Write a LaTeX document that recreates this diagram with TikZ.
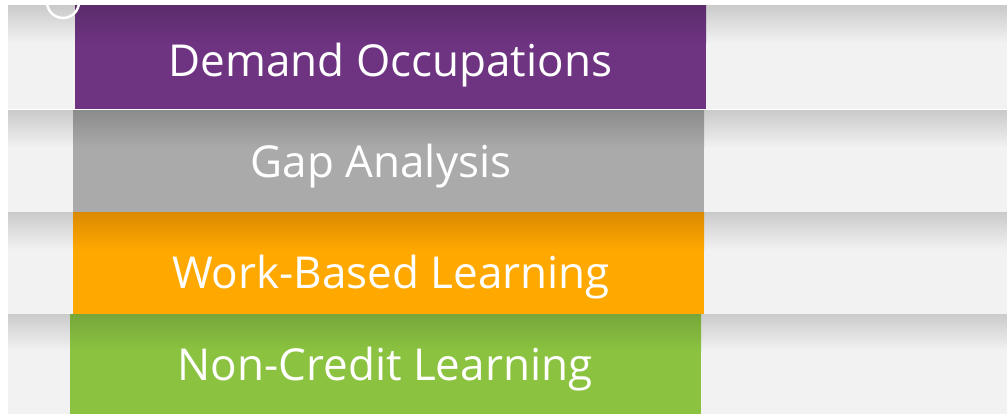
\documentclass[tikz,border=0pt]{standalone}
\usepackage{fontspec}
\setmainfont{Open Sans}
\definecolor{bandtop}{HTML}{CBCBCB}
\definecolor{bandmain}{HTML}{F2F2F2}
\definecolor{purtop}{HTML}{5B2C6D}
\definecolor{purmain}{HTML}{6E3381}
\definecolor{graytop}{HTML}{8C8C8C}
\definecolor{graymain}{HTML}{AAAAAA}
\definecolor{ortop}{HTML}{DC8B00}
\definecolor{ormain}{HTML}{FFA800}
\definecolor{grtop}{HTML}{77A73A}
\definecolor{grmain}{HTML}{8BC340}
\tikzset{
  label/.style={text=white, anchor=base, inner sep=0pt, font=\fontsize{44}{50}\selectfont},
}
\newcommand{\gradrect}[6]{%
  \fill[#6] (#1,#2) rectangle (#3,#4);
  \shade[top color=#5, bottom color=#6] (#1,#2) rectangle (#3,#2+37);
}
\begin{document}
\begin{tikzpicture}[x=1pt,y=-1pt]
\useasboundingbox (0,0) rectangle (1007,414);
\fill[white] (0,0) rectangle (1007,414);
% bands
\gradrect{8}{6}{1007}{109}{bandtop}{bandmain}
\gradrect{8}{111}{1007}{213}{bandtop}{bandmain}
\gradrect{8}{213}{1007}{314}{bandtop}{bandmain}
\gradrect{8}{314}{1007}{414}{bandtop}{bandmain}
% coloured boxes
\gradrect{75}{6}{706}{109}{purtop}{purmain}
\gradrect{73}{111}{704}{213}{graytop}{graymain}
\gradrect{73}{213}{704}{314}{ortop}{ormain}
\gradrect{70}{314}{701}{414}{grtop}{grmain}
% labels
\node[label] (demand) at (390.5,77) {Demand Occupations};
\node[label] (gap) at (381,178) {Gap Analysis};
\node[label] (wbl) at (391,288) {Work-Based Learning};
\node[label] (ncl) at (385,380) {Non-Credit Learning};
% circle
\draw[white, line width=2.5pt] (63,2) circle (16);
\end{tikzpicture}
\end{document}
